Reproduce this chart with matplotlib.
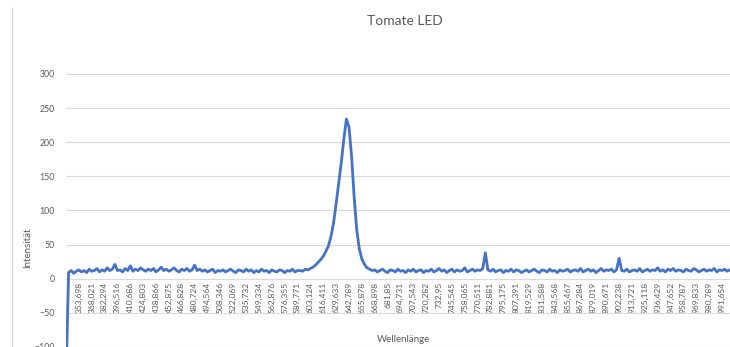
import matplotlib
matplotlib.use("Agg")
import matplotlib.pyplot as plt
from matplotlib.lines import Line2D
import numpy as np

plt.rcParams["font.family"] = ["Lato", "DejaVu Sans"]

title = "Tomate LED"
x_title = "Wellenlänge"
y_title = "Intensität"

# wavelengths shown on the category axis (one label every 5 samples)
wavelengths = [353.698, 368.021, 382.294, 396.516, 410.686, 424.803, 438.866,
               452.875, 466.828, 480.724, 494.564, 508.346, 522.069, 535.732,
               549.334, 562.876, 576.355, 589.771, 603.124, 616.411, 629.633,
               642.789, 655.878, 668.898, 681.85, 694.731, 707.543, 720.282,
               732.95, 745.545, 758.065, 770.511, 782.881, 795.175, 807.391,
               819.529, 831.588, 843.568, 855.467, 867.284, 879.019, 890.671,
               902.238, 913.721, 925.118, 936.429, 947.652, 958.787, 969.833,
               980.789, 991.654]
label_step = 5
label_first = 5

intensity = [
    -150,
    9, 12, 8, 11, 13, 10, 12, 9, 14, 11,
    12, 15, 10, 13, 11, 16, 12, 14, 21, 12,
    13, 10, 15, 12, 19, 11, 14, 12, 16, 13,
    11, 14, 12, 15, 10, 13, 17, 12, 14, 11,
    13, 16, 12, 10, 14, 12, 15, 11, 13, 20,
    12, 14, 11, 13, 10, 12, 14, 9, 12, 11,
    13, 10, 12, 14, 11, 9, 13, 12, 10, 14,
    11, 13, 9, 12, 10, 14, 11, 12, 9, 13,
    11, 10, 13, 12, 9, 12, 11, 14, 10, 12,
    12, 11, 14, 13, 15, 17, 20, 24, 28, 33,
    40, 48, 62, 82, 110, 140, 170, 205, 234, 222,
    180, 120, 72, 44, 29, 21, 16, 14, 12, 13,
    10, 12, 14, 11, 9, 13, 12, 10, 14, 11,
    12, 9, 13, 11, 14, 10, 12, 13, 9, 12,
    11, 14, 10, 12, 15, 11, 13, 9, 12, 14,
    10, 13, 11, 12, 16, 10, 12, 14, 11, 13,
    12, 15, 38, 13, 11, 14, 10, 12, 13, 9,
    12, 11, 14, 10, 13, 12, 9, 11, 13, 10,
    12, 14, 11, 9, 13, 12, 10, 14, 11, 12,
    9, 13, 11, 12, 14, 10, 12, 13, 11, 15,
    10, 12, 14, 11, 13, 9, 12, 15, 11, 13,
    12, 14, 10, 13, 30, 12, 11, 14, 10, 12,
    13, 11, 15, 10, 12, 14, 11, 13, 12, 16,
    11, 13, 10, 14, 12, 15, 11, 13, 12, 10,
    14, 12, 11, 15, 13, 10, 12, 14, 11, 13,
    12, 15, 10, 13, 12, 14, 11, 13, 12, 10,
]
y_ticks = [-100, -50, 0, 50, 100, 150, 200, 250, 300]

grey = "#595959"
W, H = 730, 347

fig = plt.figure(figsize=(W / 100, H / 100), dpi=100)
ax = fig.add_axes([66 / W, 0, 1 - 66 / W, 274 / H])

idx = np.arange(len(intensity))
ax.plot(idx, intensity, color="#4472C4", lw=2.0, solid_joinstyle="round")

ax.set_xlim(0, 258.1)
ax.set_ylim(-91.9, 301.4)
ax.set_yticks(y_ticks)
ax.yaxis.grid(True, color="#d9d9d9", lw=0.8)
ax.set_axisbelow(True)

# category labels sit on the zero line
ax.spines["bottom"].set_position(("data", 0))
for s in ax.spines.values():
    s.set_visible(False)

tick_pos = [label_first + label_step * k for k in range(len(wavelengths))]
ax.set_xticks(tick_pos)
ax.set_xticklabels([str(w).replace(".", ",") for w in wavelengths],
                   rotation=90, fontsize=6, color=grey)
ax.tick_params(axis="x", length=0, pad=2.5)
ax.tick_params(axis="y", length=0, pad=8, labelsize=6.3, labelcolor=grey)

fig.text(405 / W, 1 - 21 / H, title, ha="center", va="center",
         fontsize=10, color=grey)
fig.text(403 / W, 1 - 340 / H, x_title, ha="center", va="center",
         fontsize=7, color=grey)
fig.text(28 / W, 1 - 248 / H, y_title, ha="center", va="center",
         rotation=90, fontsize=7, color=grey)

# chart area border on the left
fig.add_artist(Line2D([12 / W, 12 / W], [0, 1 - 8 / H], color="#d9d9d9", lw=1))

fig.savefig("out.png", dpi=100, facecolor="white")
